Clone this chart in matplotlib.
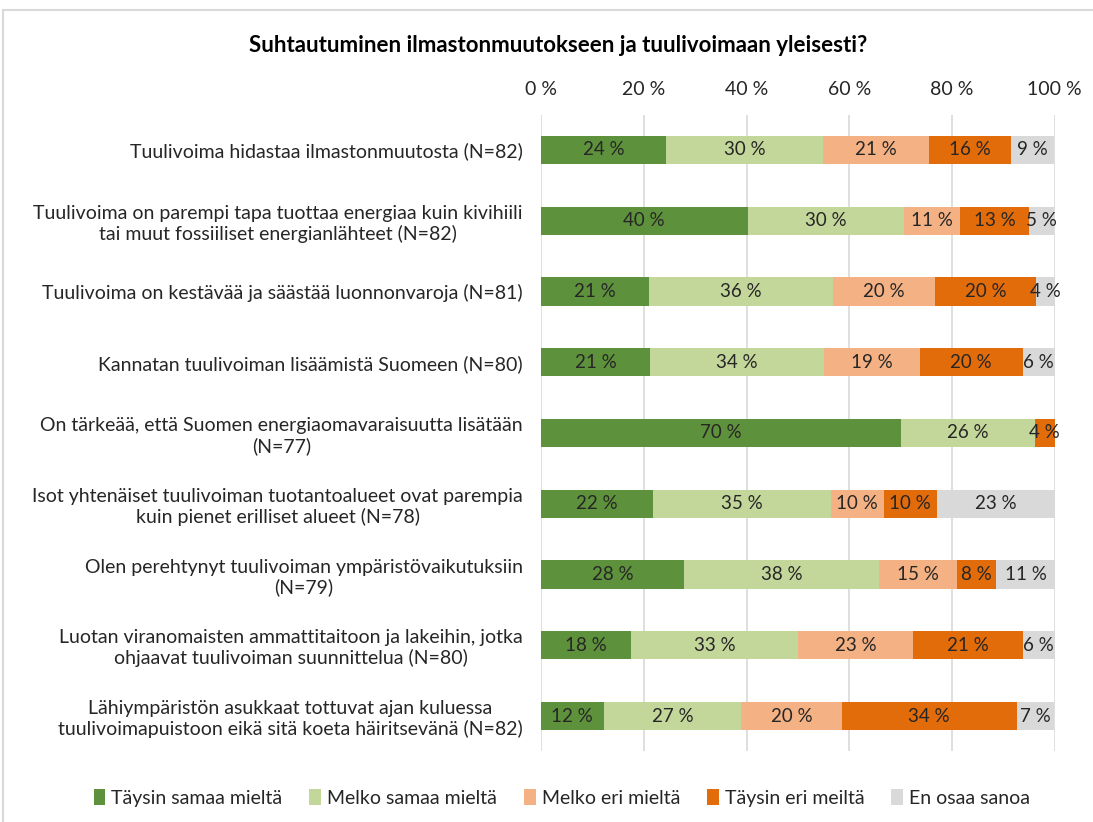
import matplotlib
matplotlib.use("Agg")
import matplotlib.pyplot as plt
from matplotlib.patches import Rectangle

plt.rcParams["font.family"] = ["Lato", "DejaVu Sans"]

title = "Suhtautuminen ilmastonmuutokseen ja tuulivoimaan yleisesti?"

statements = [
    "Tuulivoima hidastaa ilmastonmuutosta (N=82)",
    "Tuulivoima on parempi tapa tuottaa energiaa kuin kivihiili\ntai muut fossiiliset energianlähteet (N=82)",
    "Tuulivoima on kestävää ja säästää luonnonvaroja (N=81)",
    "Kannatan tuulivoiman lisäämistä Suomeen (N=80)",
    "On tärkeää, että Suomen energiaomavaraisuutta lisätään\n(N=77)",
    "Isot yhtenäiset tuulivoiman tuotantoalueet ovat parempia\nkuin pienet erilliset alueet (N=78)",
    "Olen perehtynyt tuulivoiman ympäristövaikutuksiin\n(N=79)",
    "Luotan viranomaisten ammattitaitoon ja lakeihin, jotka\nohjaavat tuulivoiman suunnittelua (N=80)",
    "Lähiympäristön asukkaat tottuvat ajan kuluessa\ntuulivoimapuistoon eikä sitä koeta häiritsevänä (N=82)",
]

answers = ["Täysin samaa mieltä", "Melko samaa mieltä", "Melko eri mieltä",
           "Täysin eri meiltä", "En osaa sanoa"]

# shares in percent, one list per answer option
taysin_samaa = [24.4, 40.2, 21.0, 21.25, 70.1, 21.8, 27.8, 17.5, 12.2]
melko_samaa = [30.4, 30.4, 35.8, 33.75, 26.0, 34.6, 38.0, 32.5, 26.8]
melko_eri = [20.7, 11.0, 19.8, 18.75, 0.0, 10.3, 15.2, 22.5, 19.5]
taysin_eri = [15.9, 13.4, 19.8, 20.0, 3.9, 10.3, 7.6, 21.25, 34.1]
en_osaa = [8.5, 4.9, 3.7, 6.25, 0.0, 23.1, 11.4, 6.25, 7.3]

series = [taysin_samaa, melko_samaa, melko_eri, taysin_eri, en_osaa]
colors = ["#5E913B", "#C4D79B", "#F4B183", "#E26B0A", "#D9D9D9"]

fig = plt.figure(figsize=(10.93, 8.22), dpi=100)
ax = fig.add_axes([0.495, 0.0859, 0.47, 0.7747])

y = list(range(len(statements)))
left = [0.0] * len(statements)
for vals, color, name in zip(series, colors, answers):
    ax.barh(y, vals, left=left, height=0.4, color=color, linewidth=0, label=name)
    for yi, v, l in zip(y, vals, left):
        if v > 0:
            ax.text(l + v / 2, yi, f"{int(v + 0.5)} %", ha="center", va="center",
                    fontsize=13.5, color="#262626")
    left = [a + b for a, b in zip(left, vals)]

ax.set_xlim(0, 100)
ax.set_ylim(len(statements) - 0.5, -0.5)
ax.set_yticks(y)
ax.set_yticklabels(statements, fontsize=14, color="#262626", multialignment="center")
ax.set_xticks(range(0, 101, 20))
ax.set_xticklabels([f"{t} %" for t in range(0, 101, 20)], fontsize=14, color="#262626")
ax.xaxis.tick_top()
ax.tick_params(axis="y", length=0, pad=13)
ax.tick_params(axis="x", length=0, pad=12)
ax.grid(axis="x", color="#D9D9D9", linewidth=1.2)
ax.set_axisbelow(True)
for s in ax.spines.values():
    s.set_visible(False)

fig.text(0.511, 0.945, title, ha="center", va="center", fontsize=16,
         fontweight="bold", color="#000000")

handles, labels = ax.get_legend_handles_labels()
fig.legend(handles, labels, loc="center", bbox_to_anchor=(0.514, 0.029), ncol=5,
           frameon=False, fontsize=14, handlelength=0.6, handleheight=0.9,
           handletextpad=0.3, columnspacing=1.4, labelcolor="#262626")

# outer chart border (only top and left edges fall inside the image)
fig.patches.append(Rectangle((0.003, -0.1), 1.2, 1.088,
                             transform=fig.transFigure, fill=False,
                             edgecolor="#D9D9D9", linewidth=1.5))

fig.savefig("out.png", dpi=100)
